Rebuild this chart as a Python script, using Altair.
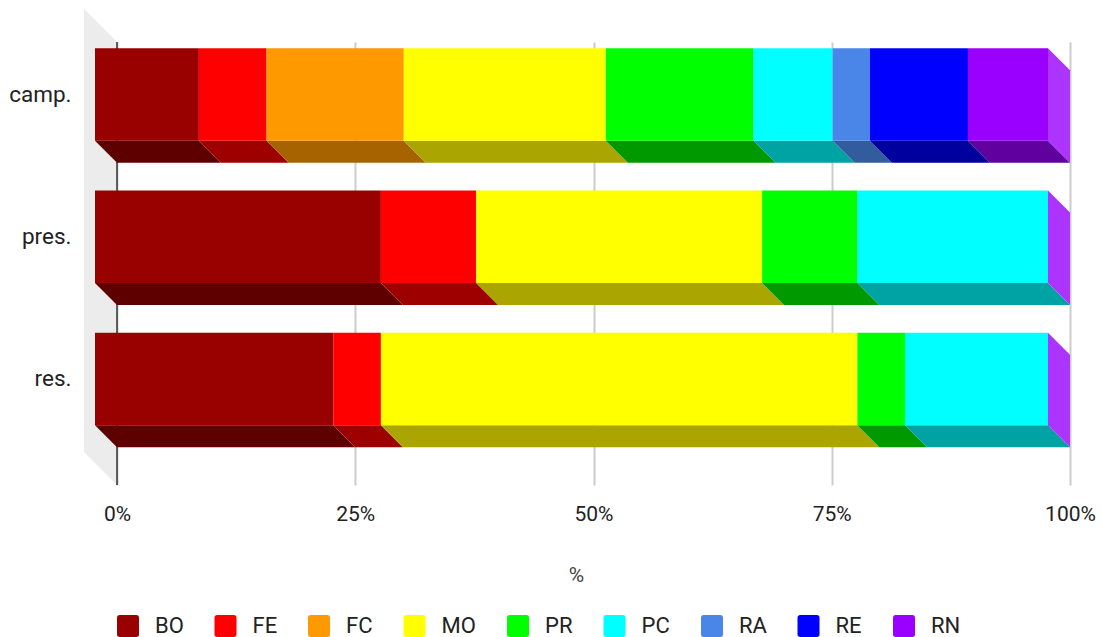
import json
import altair as alt
import pandas as pd

# ---------------- data ----------------
categories = ["camp.", "pres.", "res."]
parties = ["BO", "FE", "FC", "MO", "PR", "PC", "RA", "RE", "RN"]
camp_vals = [10.9, 7.1, 14.4, 21.2, 15.5, 8.3, 3.9, 10.3, 8.4]
pres_vals = [30, 10, 0, 30, 10, 20, 0, 0, 0]
res_vals = [25, 5, 0, 50, 5, 15, 0, 0, 0]
x_ticks = [0, 25, 50, 75, 100]

# ---------------- styles ----------------
front_colors = ["#990000", "#ff0000", "#ff9900", "#ffff00", "#00ff00",
                "#00ffff", "#4a86e8", "#0000ff", "#9900ff"]
bottom_colors = ["#5f0000", "#9e0000", "#a66300", "#aaa500", "#009900",
                 "#00a3a3", "#335c9e", "#00009e", "#60009e"]
side_color = "#ad33ff"
wall_color = "#ececec"
FONT = "Roboto"

PLOT_W, PLOT_H = 953, 443
PX_PER_CAT = 142.2
FIRST_CENTER_PX = 52.5
FRONT_HALF_PX = 46.25
DEPTH_PX = 22.0
WALL_PX = 33.0


def xu(px):
    return px / PLOT_W * 100.0


Y0 = -FIRST_CENTER_PX / PX_PER_CAT


def yu(px):
    return Y0 + px / PX_PER_CAT


h = FRONT_HALF_PX / PX_PER_CAT
dy = DEPTH_PX / PX_PER_CAT
D = xu(DEPTH_PX)

series = [camp_vals, pres_vals, res_vals]
front_rows, bottom_rows, side_rows = [], [], []
for i, (cat, vals) in enumerate(zip(categories, series)):
    cum = 0.0
    for p, v, bc in zip(parties, vals, bottom_colors):
        if v > 0:
            x0, x1 = cum, cum + v
            front_rows.append(dict(cat=cat, party=p, x0=x0 - D, x1=x1 - D,
                                   y0=i - h, y1=i + h))
            key = f"{cat}-{p}"
            bottom_rows.append(dict(key=key, ay=i + h, ax=x0 - D, ax2=x1 - D, shade=bc))
            bottom_rows.append(dict(key=key, ay=i + h + dy, ax=x0, ax2=x1, shade=bc))
        cum += v
    side_rows.append(dict(key=cat, sx=100 - D, sy=i - h, sy2=i + h))
    side_rows.append(dict(key=cat, sx=100, sy=i - h + dy, sy2=i + h + dy))

wall_df = pd.DataFrame([
    dict(wx=-xu(WALL_PX), wy=yu(-WALL_PX), wy2=yu(PLOT_H - WALL_PX)),
    dict(wx=0.0, wy=yu(0), wy2=yu(PLOT_H)),
])
front_df = pd.DataFrame(front_rows)
bottom_df = pd.DataFrame(bottom_rows)
side_df = pd.DataFrame(side_rows)
zero_df = pd.DataFrame({"zx": [0.0]})

xs = alt.Scale(domain=[0, 100], nice=False, zero=False)
ys = alt.Scale(domain=[Y0, Y0 + PLOT_H / PX_PER_CAT], reverse=True, nice=False, zero=False)

x_axis = alt.Axis(values=x_ticks, labelExpr="datum.value + '%'", grid=True,
                  gridColor="#cccccc", gridWidth=2, domain=False, ticks=False,
                  labelPadding=18, labelBaseline="top", labelFlush=False,
                  labelFontSize=21, labelFont=FONT, labelColor="#222222",
                  title="%", titleX=459, titleY=90, titleBaseline="middle",
                  titleFontSize=21, titleFont=FONT, titleFontWeight="normal",
                  titleColor="#444444")
y_axis = alt.Axis(values=list(range(len(categories))),
                  labelExpr=json.dumps(categories) + "[datum.value]",
                  grid=False, domain=False, ticks=False, labelPadding=46,
                  labelFontSize=22.5, labelFont=FONT, labelColor="#222222",
                  title=None)

rounded_sq = ("M-1,-0.75 Q-1,-1 -0.75,-1 L0.75,-1 Q1,-1 1,-0.75 L1,0.75 "
              "Q1,1 0.75,1 L-0.75,1 Q-1,1 -1,0.75 Z")

wall = alt.Chart(wall_df).mark_area(orient="vertical", color=wall_color).encode(
    x=alt.X("wx:Q", scale=xs, axis=x_axis),
    y=alt.Y("wy:Q", scale=ys, axis=y_axis, stack=None),
    y2="wy2:Q",
)

zero = alt.Chart(zero_df).mark_rule(color="#333333", strokeWidth=1.5).encode(
    x=alt.X("zx:Q", scale=xs, axis=x_axis),
)

bottom = alt.Chart(bottom_df).mark_area(orient="horizontal").encode(
    y=alt.Y("ay:Q", scale=ys, axis=y_axis, stack=None),
    x=alt.X("ax:Q", scale=xs, axis=x_axis, stack=None),
    x2="ax2:Q",
    fill=alt.Fill("shade:N", scale=None),
    detail="key:N",
)

side = alt.Chart(side_df).mark_area(orient="vertical", color=side_color).encode(
    x=alt.X("sx:Q", scale=xs, axis=x_axis),
    y=alt.Y("sy:Q", scale=ys, axis=y_axis, stack=None),
    y2="sy2:Q",
    detail="key:N",
)

front = alt.Chart(front_df).mark_rect().encode(
    x=alt.X("x0:Q", scale=xs, axis=x_axis),
    x2="x1:Q",
    y=alt.Y("y0:Q", scale=ys, axis=y_axis),
    y2="y1:Q",
    color=alt.Color("party:N",
                    scale=alt.Scale(domain=parties, range=front_colors),
                    legend=alt.Legend(orient="none", legendX=0, legendY=573,
                                      direction="horizontal", title=None,
                                      symbolType=rounded_sq, symbolSize=484,
                                      symbolStrokeWidth=0, labelFontSize=22,
                                      labelFont=FONT, labelColor="#222222",
                                      labelOffset=16, columnPadding=30.5,
                                      padding=0, symbolOffset=0)),
)

chart = alt.layer(wall, zero, bottom, side, front).properties(
    width=PLOT_W, height=PLOT_H,
    autosize=alt.AutoSizeParams(type="none"),
    padding={"left": 117, "top": 42, "right": 32, "bottom": 152},
    background="white",
).configure_view(stroke=None)

chart.save("out.html", embed_options={"renderer": "svg", "actions": False})
